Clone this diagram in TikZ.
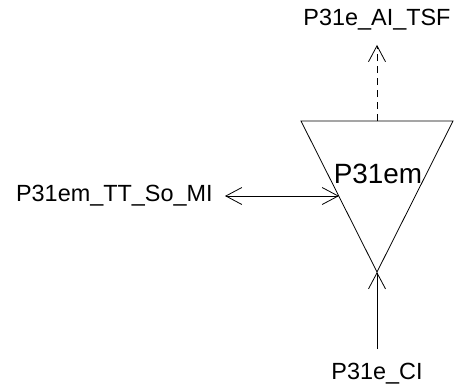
\documentclass[tikz,border=0pt]{standalone}
\usepackage{fontspec}
\setmainfont{Liberation Sans}
\usetikzlibrary{arrows.meta}

\tikzset{
  flowlabel/.style={font=\fontsize{23.5}{23.5}\selectfont, inner sep=0pt},
  proclabel/.style={font=\fontsize{28}{28}\selectfont, inner sep=0pt},
  flowtip/.tip={Straight Barb[length=16bp,width=17bp]},
}

\begin{document}
\begin{tikzpicture}[x=1bp,y=-1bp,line width=0.8bp]
\useasboundingbox (0,0) rectangle (455,387);
% process triangle
\coordinate (tl) at (301,121);
\coordinate (tr) at (453,121);
\coordinate (apex) at (377,272);
\coordinate (topmid) at (377,121);
\coordinate (lefthit) at (339,196);
\draw (tl) -- (tr) -- (apex) -- cycle;
\node[proclabel] (proc) at (378,174) {P31em};
% flow labels
\node[flowlabel] (tsf) at (377,20) {P31e\_AI\_TSF};
\node[flowlabel, anchor=east] (ttso) at (213,196) {P31em\_TT\_So\_MI};
\node[flowlabel] (ci) at (377,374) {P31e\_CI};
% flows
\draw[dashed, dash pattern=on 7bp off 5bp, -flowtip, shorten >=14bp] (topmid) -- (tsf);
\draw[flowtip-flowtip, shorten <=12bp] (ttso.east) -- (lefthit);
\draw[-flowtip, shorten <=14bp] (ci) -- (apex);
\end{tikzpicture}
\end{document}
